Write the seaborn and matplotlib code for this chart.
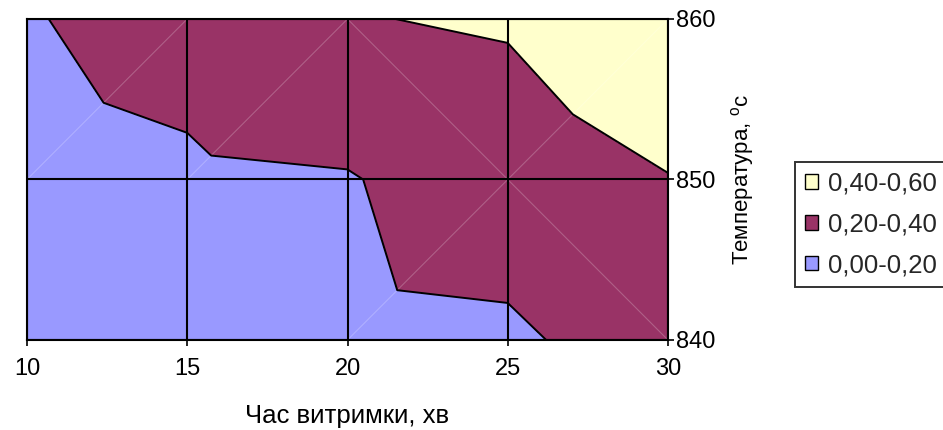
import numpy as np
import matplotlib
matplotlib.use("Agg")
import matplotlib.pyplot as plt
import matplotlib.tri as mtri
from matplotlib.patches import Patch
import seaborn as sns

# ---- data ----
x_values = [10, 15, 20, 25, 30]           # Час витримки, хв
t_values = [840, 850, 860]                # Температура, °C
z_840 = [0.050, 0.090, 0.146, 0.164, 0.314]
z_850 = [0.124, 0.166, 0.187, 0.320, 0.395]
z_860 = [0.187, 0.283, 0.394, 0.414, 0.517]
# diagonal used to split each grid cell ('/' = bottom-left to top-right)
cell_diagonals_840 = ['/', '/', '/', '\\']
cell_diagonals_850 = ['/', '/', '\\', '/']
levels = [0.0, 0.2, 0.4, 0.6]
level_labels = ['0,00-0,20', '0,20-0,40', '0,40-0,60']
level_colors = ['#9999FF', '#993366', '#FFFFCC']
x_label = 'Час витримки, хв'
y_label = 'Температура, $^{o}$c'

sns.set_style('white')
plt.rcParams['font.family'] = ['Liberation Sans', 'DejaVu Sans']
plt.rcParams['mathtext.default'] = 'regular'

# ---- build triangulation like Excel's surface contour ----
nx, ny = len(x_values), len(t_values)
X, Y = np.meshgrid(x_values, t_values)
Z = np.array([z_840, z_850, z_860])
px, py, pz = X.ravel(), Y.ravel(), Z.ravel()

def idx(i, j):
    return j * nx + i

tris = []
diag_segments = []
for j, diags in enumerate([cell_diagonals_840, cell_diagonals_850]):
    for i, d in enumerate(diags):
        bl, br, tl, tr = idx(i, j), idx(i + 1, j), idx(i, j + 1), idx(i + 1, j + 1)
        if d == '/':
            tris += [[bl, br, tr], [bl, tr, tl]]
            seg = (bl, tr)
        else:
            tris += [[bl, br, tl], [tl, br, tr]]
            seg = (tl, br)
        cell_z = pz[[bl, br, tl, tr]]
        if any(cell_z.min() < lv < cell_z.max() for lv in levels[1:-1]):
            diag_segments.append(seg)

tri = mtri.Triangulation(px, py, np.array(tris))

fig = plt.figure(figsize=(9.43, 4.30), dpi=100)
ax = fig.add_axes([27 / 943, 1 - 340 / 430, 641 / 943, 321 / 430])

ax.tricontourf(tri, pz, levels=levels, colors=level_colors, zorder=1)
for a, b in diag_segments:
    ax.plot([px[a], px[b]], [py[a], py[b]], color='white', alpha=0.22, lw=0.8, zorder=1.5)
ax.tricontour(tri, pz, levels=levels[1:-1], colors='black', linewidths=1.4, zorder=2)

ax.set_xlim(x_values[0], x_values[-1])
ax.set_ylim(t_values[0], t_values[-1])
ax.set_xticks(x_values)
ax.set_yticks(t_values)
ax.yaxis.tick_right()
ax.yaxis.set_label_position('right')
ax.set_axisbelow(False)
ax.grid(True, color='black', lw=1.5)
for s in ax.spines.values():
    s.set_color('black')
    s.set_linewidth(1.5)

ax.tick_params(axis='x', bottom=True, top=False, direction='out', length=4, width=1.2,
               labelsize=17, pad=9, colors='black')
ax.tick_params(axis='y', right=True, left=False, direction='out', length=4, width=1.2,
               labelsize=17, pad=2, colors='black')

ax.set_xlabel(x_label, fontsize=18.5, color='black')
ax.xaxis.set_label_coords(0.5, -(404 - 340) / 321)
ax.set_ylabel(y_label, fontsize=16, color='black', rotation=90)
ax.yaxis.set_label_coords((729 - 27) / 641, 0.5)

handles = [Patch(facecolor=level_colors[k], edgecolor='black', lw=1.0, label=level_labels[k])
           for k in range(len(level_labels) - 1, -1, -1)]
leg = fig.legend(handles=handles, loc='upper left',
                 bbox_to_anchor=(795 / 943, 1 - 162 / 430), bbox_transform=fig.transFigure,
                 fontsize=18.5, frameon=True, fancybox=False, shadow=False,
                 handlelength=0.5, handleheight=0.5, handletextpad=0.4,
                 borderpad=0.38, labelspacing=0.65, borderaxespad=0)
leg.get_frame().set_edgecolor('black')
leg.get_frame().set_linewidth(1.4)

fig.savefig('out.png', dpi=100)
